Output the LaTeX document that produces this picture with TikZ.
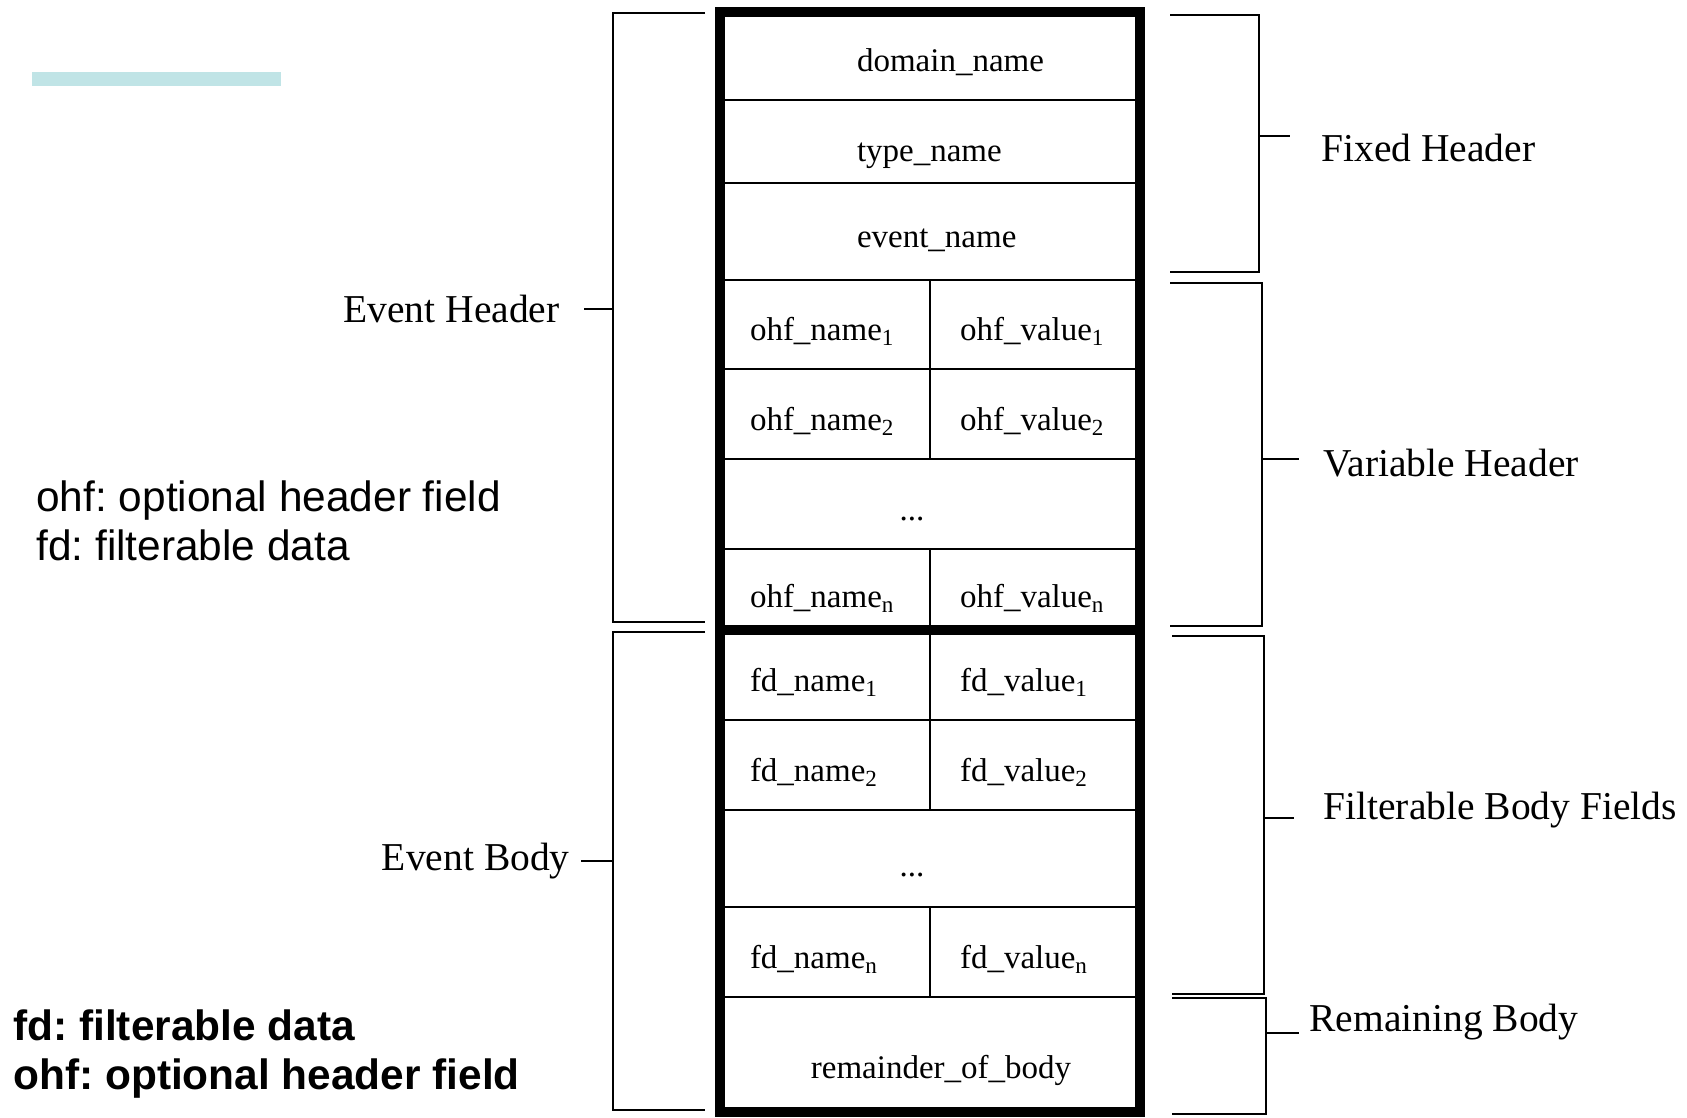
\documentclass[tikz,border=0pt]{standalone}
\usepackage{fontspec}
\setmainfont{Liberation Serif}
\setsansfont{Liberation Sans}
\usetikzlibrary{positioning}

\definecolor{barteal}{RGB}{192,228,230}
\frenchspacing

\begin{document}
\begin{tikzpicture}[
    x=0.5pt, y=-0.5pt,
    fullcell/.style={draw, line width=1.2pt, outer sep=0pt, inner sep=0pt, minimum width=210pt,
        text height=18pt, text depth=2pt, font=\fontsize{16.5}{20}\selectfont},
    fixedcell/.style={fullcell, text width=73pt, align=left},
    halfcell/.style={fullcell, minimum width=105pt, text width=75pt, align=left},
    outerframe/.style={draw, line width=4.8pt},
    bracketline/.style={draw, line width=1pt},
    lbl/.style={font=\fontsize{19.75}{24}\selectfont, inner sep=0pt},
    legendtext/.style={font=\sffamily\fontsize{21.2}{24.5}\selectfont, align=left, inner sep=0pt}
]
\useasboundingbox (0,0) rectangle (1687,1118);

% Title bar
\fill[barteal] (32,72) rectangle (281,86);

% Fixed header
\node[fixedcell, minimum height=44pt, anchor=north] (dom) at (930,12) {domain\_name};
\node[fixedcell, minimum height=41.5pt, text height=22pt, below=0pt of dom] (typ) {type\_name};
\node[fixedcell, minimum height=48.5pt, below=0pt of typ] (evt) {event\_name};

% Optional header fields
\node[halfcell, minimum height=44.5pt, anchor=north west] (ohfn1) at (evt.south west) {ohf\_name\textsubscript{1}};
\node[halfcell, minimum height=44.5pt, right=0pt of ohfn1] (ohfv1) {ohf\_value\textsubscript{1}};
\node[halfcell, minimum height=45pt, below=0pt of ohfn1] (ohfn2) {ohf\_name\textsubscript{2}};
\node[halfcell, minimum height=45pt, below=0pt of ohfv1] (ohfv2) {ohf\_value\textsubscript{2}};
\node[fullcell, minimum height=45pt, anchor=north west] (ohfdots) at (ohfn2.south west) {\hspace*{-18pt}...};
\node[halfcell, minimum height=40.5pt, text height=20pt, anchor=north west] (ohfnn) at (ohfdots.south west) {ohf\_name\textsubscript{n}};
\node[halfcell, minimum height=40.5pt, text height=20pt, right=0pt of ohfnn] (ohfvn) {ohf\_value\textsubscript{n}};

% Filterable data
\node[halfcell, minimum height=45pt, below=0pt of ohfnn] (fdn1) {fd\_name\textsubscript{1}};
\node[halfcell, minimum height=45pt, below=0pt of ohfvn] (fdv1) {fd\_value\textsubscript{1}};
\node[halfcell, minimum height=45pt, below=0pt of fdn1] (fdn2) {fd\_name\textsubscript{2}};
\node[halfcell, minimum height=45pt, below=0pt of fdv1] (fdv2) {fd\_value\textsubscript{2}};
\node[fullcell, minimum height=48.5pt, text height=20pt, anchor=north west] (fddots) at (fdn2.south west) {\hspace*{-18pt}...};
\node[halfcell, minimum height=45pt, anchor=north west] (fdnn) at (fddots.south west) {fd\_name\textsubscript{n}};
\node[halfcell, minimum height=45pt, right=0pt of fdnn] (fdvn) {fd\_value\textsubscript{n}};
\node[fullcell, minimum height=57.5pt, text height=25.5pt, anchor=north west] (rem) at (fdnn.south west) {\hspace*{11pt}remainder\_of\_body};

% Thick outline and header/body split
\draw[outerframe] (dom.north west) rectangle (rem.south east);
\draw[outerframe] (ohfnn.south west) -- (ohfvn.south east);

% Left brackets
\draw[bracketline] (705,13) -| (613,622) -- (705,622);
\draw[bracketline] (705,632) -| (613,1110) -- (705,1110);
\coordinate (ehtip) at (584,309);
\coordinate (ebtip) at (581,861);
\draw[bracketline] (613,309) -- (ehtip);
\draw[bracketline] (613,861) -- (ebtip);
\node[lbl, anchor=east] (ehlbl) at (560,309) {Event Header};
\node[lbl, anchor=east] (eblbl) at (570,861) {Event Body};

% Right brackets
\draw[bracketline] (1170,15) -| (1259,272) -- (1170,272);
\draw[bracketline] (1170,283) -| (1262,626) -- (1170,626);
\draw[bracketline] (1172,636) -| (1264,994) -- (1172,994);
\draw[bracketline] (1172,998) -| (1266,1114) -- (1172,1114);
\coordinate (fhtip) at (1290,136);
\coordinate (vhtip) at (1299,459);
\coordinate (fbtip) at (1294,818);
\coordinate (rbtip) at (1299,1033);
\draw[bracketline] (1259,136) -- (fhtip);
\draw[bracketline] (1262,459) -- (vhtip);
\draw[bracketline] (1264,818) -- (fbtip);
\draw[bracketline] (1266,1033) -- (rbtip);
\node[lbl, anchor=west] (fhlbl) at (1321,148) {Fixed Header};
\node[lbl, anchor=west] (vhlbl) at (1323,463) {Variable Header};
\node[lbl, anchor=west] (fblbl) at (1323,810) {Filterable Body Fields};
\node[lbl, anchor=west] (rblbl) at (1309,1022) {Remaining Body};

% Abbreviations
\node[legendtext, anchor=west] (abbrev) at (36,521) {ohf: optional header field\\fd: filterable data};
\node[legendtext, font=\sffamily\bfseries\fontsize{21.2}{24.5}\selectfont, anchor=west] (abbrevbold) at (13,1054) {fd: filterable data\\ohf: optional header field};

\end{tikzpicture}
\end{document}
